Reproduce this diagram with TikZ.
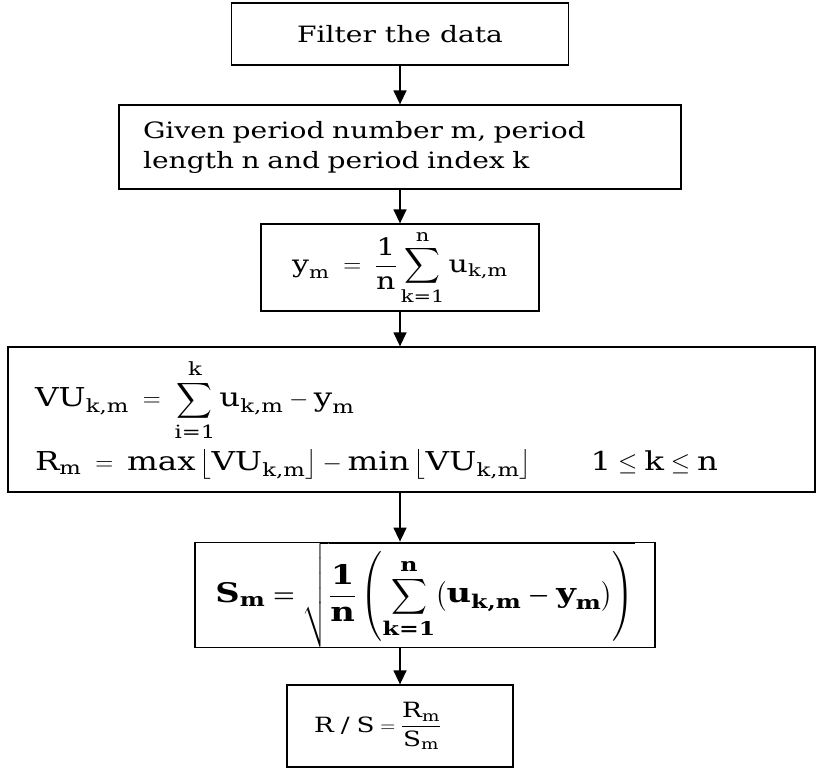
\documentclass[tikz,border=0pt]{standalone}
\usepackage{amsmath}
\usepackage[no-math]{fontspec}
\setmainfont{DejaVu Serif}[FakeStretch=1.25]
\usetikzlibrary{arrows.meta}

% upright letters in the formulas, taken from the text font
\newcommand{\rmv}[1]{\text{#1}}
\newcommand{\bfv}[1]{\text{\bfseries #1}}
\newcommand{\ymformula}{$\rmv{y}_{\rmv{m}} \;=\; \dfrac{\rmv{1}}{\rmv{n}}\displaystyle\sum_{\rmv{k=1}}^{\rmv{n}} \rmv{u}_{\rmv{k,m}}$}
\newcommand{\vuformula}{$\rmv{VU}_{\rmv{k,m}} \;=\; \displaystyle\sum_{\rmv{i=1}}^{\rmv{k}} \rmv{u}_{\rmv{k,m}} - \rmv{y}_{\rmv{m}}$}
\newcommand{\rmformula}{$\rmv{R}_{\rmv{m}} \;=\; \rmv{max}\left\lfloor \rmv{VU}_{\rmv{k,m}} \right\rfloor - \rmv{min}\left\lfloor \rmv{VU}_{\rmv{k,m}} \right\rfloor \hspace{55pt} \rmv{1} \leq \rmv{k} \leq \rmv{n}$}
\newcommand{\smformula}{{\boldmath$\bfv{S}_{\bfv{m}} = \sqrt{\dfrac{\bfv{1}}{\bfv{n}}\left(\displaystyle\sum_{\bfv{k=1}}^{\bfv{n}}\bigl(\bfv{u}_{\bfv{k,m}} - \bfv{y}_{\bfv{m}}\bigr)\right)}$}}
\newcommand{\rsformula}{$\rmv{R / S} = \dfrac{\rmv{R}_{\rmv{m}}}{\rmv{S}_{\rmv{m}}}$}

\begin{document}
\begin{tikzpicture}[x=1pt, y=-1pt,
  box/.style={draw, line width=1.3pt, inner sep=0pt, align=center},
  txt/.style={font=\fontsize{22.5}{30}\selectfont},
  arrowline/.style={-{Triangle[length=14pt,width=13pt]}, line width=1.4pt}
]
  \useasboundingbox (0,0) rectangle (817,769);

  % steps, top to bottom
  \node[box, txt, minimum width=337pt, minimum height=62pt] (filter) at (400,34) {Filter the data};

  \node[box, txt, minimum width=562pt, minimum height=84pt, text width=514pt, align=left]
    (given) at (400,147) {Given period number m, period\\length n and period index k};

  \node[box, font=\fontsize{24}{30}\selectfont, minimum width=278pt, minimum height=87pt]
    (ym) at (400,267.5) {\ymformula};

  \node[box, font=\fontsize{26}{32}\selectfont, minimum width=807pt, minimum height=145pt,
    text width=753pt, align=left] (vu) at (411.5,419.5) {\vuformula\\[8pt] \rmformula};

  \node[box, font=\fontsize{27}{34}\selectfont, minimum width=460pt, minimum height=84pt]
    (sm) at (425,595) {\smformula};

  \node[box, font=\fontsize{21}{26}\selectfont, minimum width=226pt, minimum height=82pt,
    text width=172pt, align=left] (rs) at (400,726) {\rsformula};

  % connectors
  \draw[arrowline] (filter) -- (given);
  \draw[arrowline] (given) -- (ym);
  \draw[arrowline] (ym.south) -- (ym.south |- vu.north);
  \draw[arrowline] (rs.north |- vu.south) -- (rs.north |- sm.north);
  \draw[arrowline] (sm.south -| rs.north) -- (rs.north);
\end{tikzpicture}
\end{document}
